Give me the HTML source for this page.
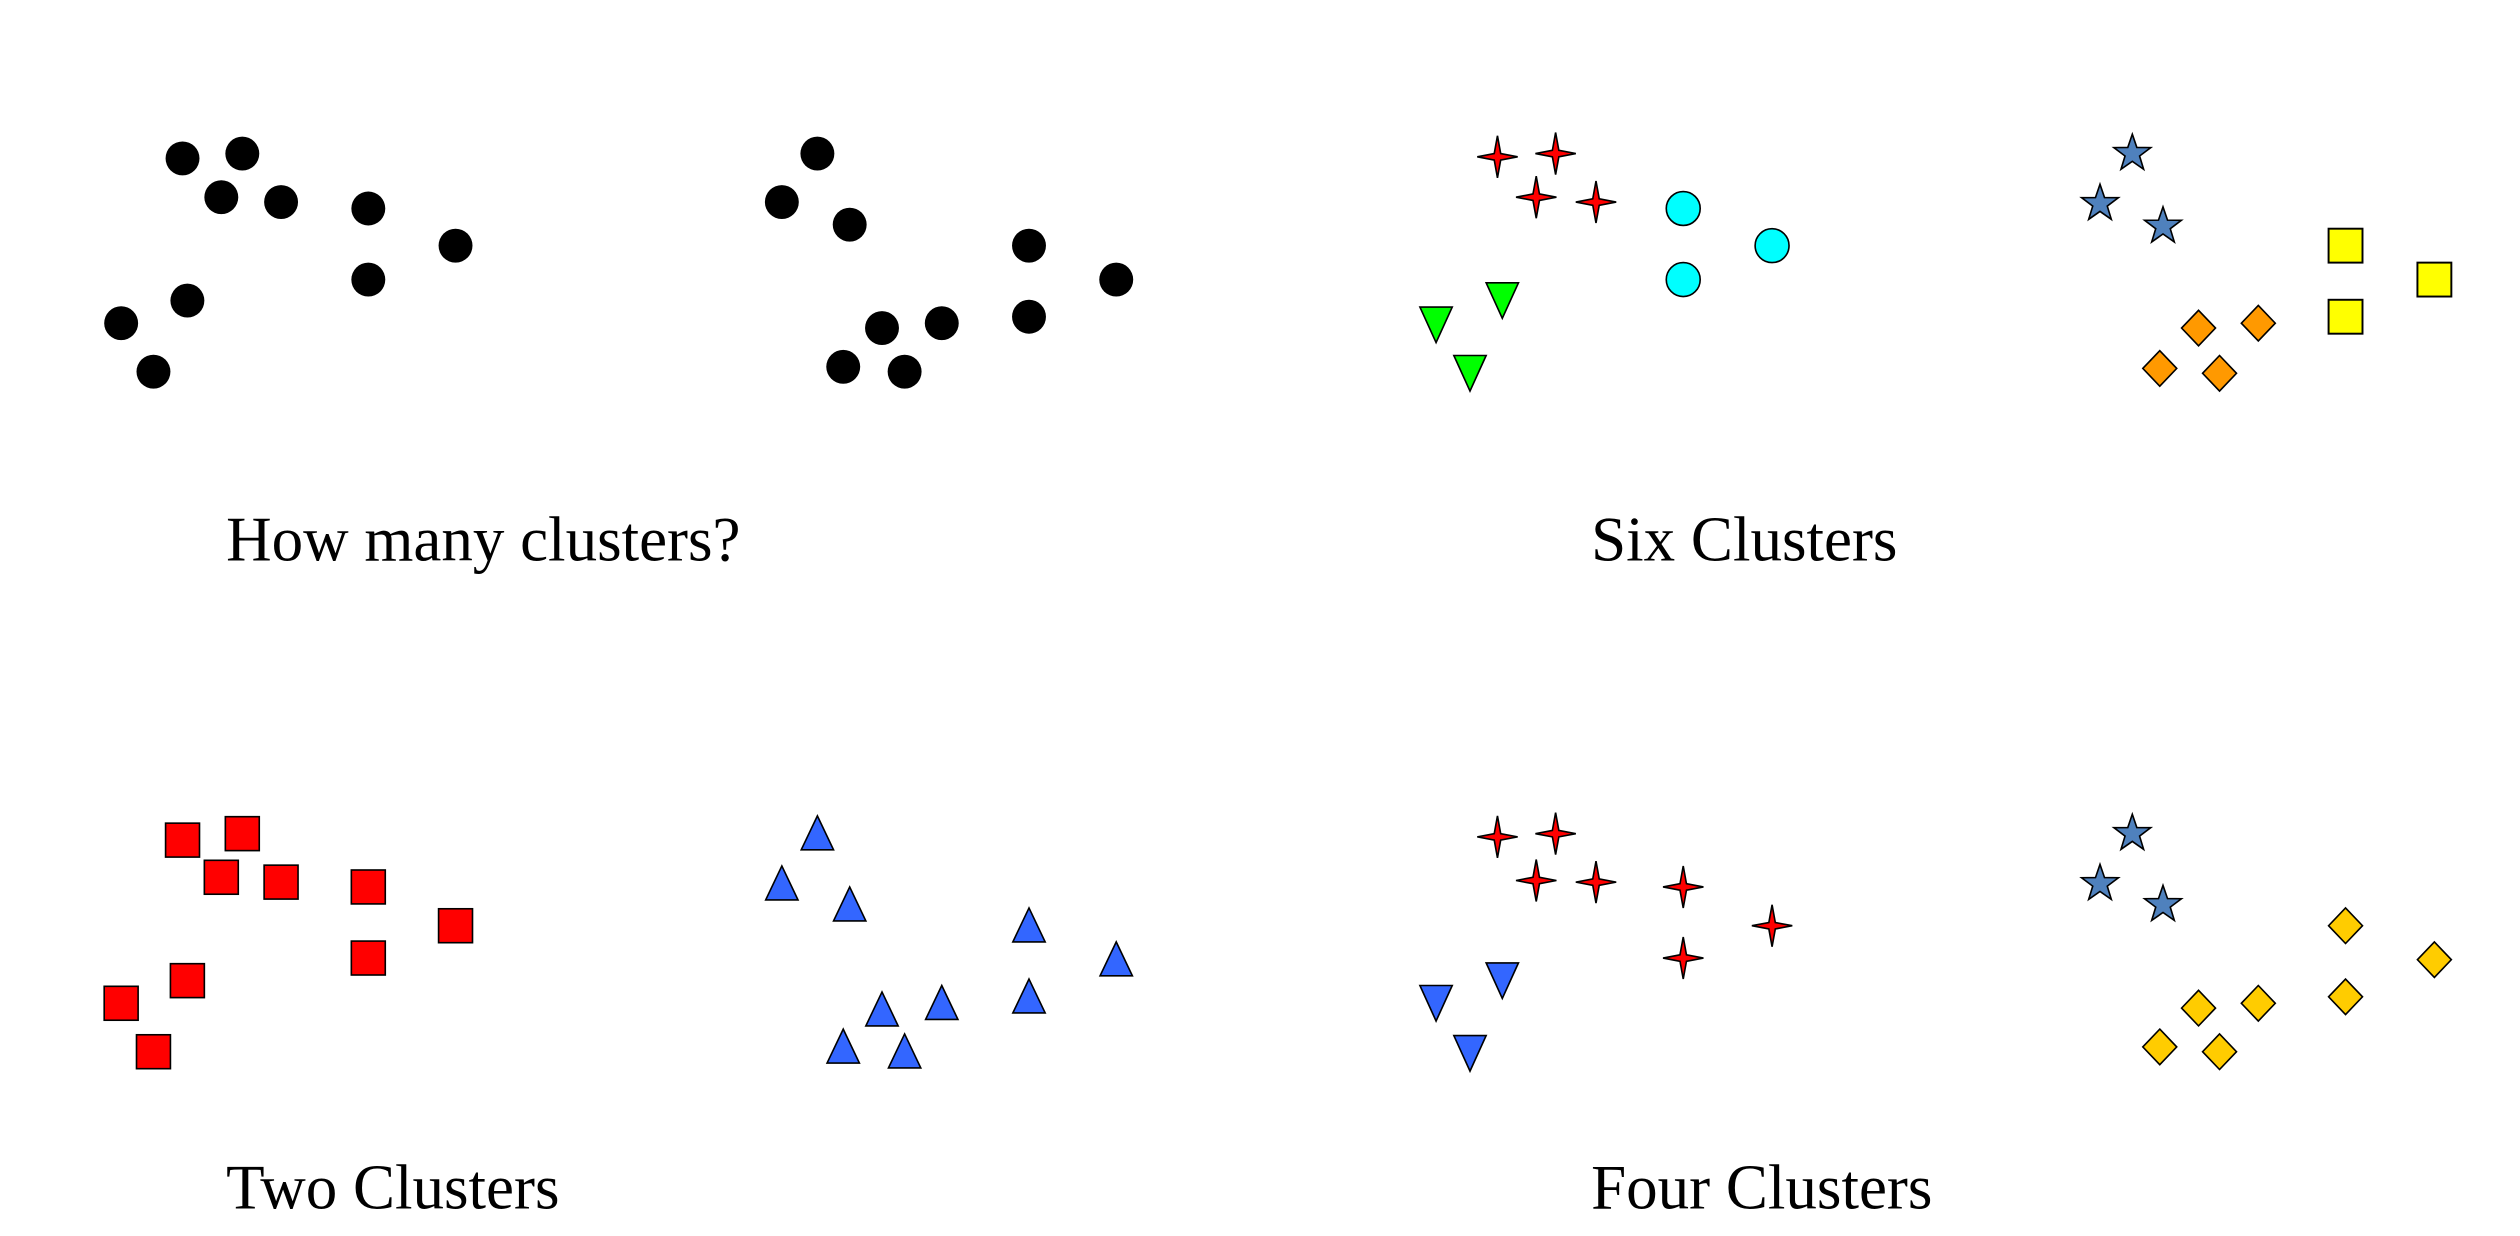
<!DOCTYPE html>
<html><head><meta charset="utf-8"><style>html,body{margin:0;padding:0;background:#fff}svg{display:block}</style></head>
<body>
<svg width="2520" height="1236" viewBox="0 0 1560 765" xmlns="http://www.w3.org/2000/svg">
<defs>
<circle id="dot" r="10.5" fill="#000"/>
<circle id="cy" r="10.5" fill="#00FFFF" stroke="#000" stroke-width="1"/>
<rect id="rs" x="-10.5" y="-10.5" width="21" height="21" fill="#FF0000" stroke="#000" stroke-width="1"/>
<rect id="ys" x="-10.5" y="-10.5" width="21" height="21" fill="#FFFF00" stroke="#000" stroke-width="1.2"/>
<path id="s4" d="M0,-13 L2,-2 L12.5,0 L2,2 L0,13 L-2,2 L-12.5,0 L-2,-2Z" fill="#FF0000" stroke="#000" stroke-width="1"/>
<path id="gt" d="M-10,-10 L10,-10 L0,12Z" fill="#00FF00" stroke="#000" stroke-width="1"/>
<path id="bt" d="M-10,-10 L10,-10 L0,12Z" fill="#3366FF" stroke="#000" stroke-width="1"/>
<path id="ut" d="M0,-11 L10,10 L-10,10Z" fill="#3366FF" stroke="#000" stroke-width="1"/>
<path id="od" d="M0,-11 L10.5,0 L0,11 L-10.5,0Z" fill="#FF9900" stroke="#000" stroke-width="1"/>
<path id="yd" d="M0,-11 L10.5,0 L0,11 L-10.5,0Z" fill="#FFCC00" stroke="#000" stroke-width="1"/>
<path id="st" d="M0,-12 L2.8,-3.8 L11.4,-3.7 L4.5,1.5 L7,9.7 L0,4.8 L-7,9.7 L-4.5,1.5 L-11.4,-3.7 L-2.8,-3.8Z" fill="#4F81BD" stroke="#000" stroke-width="1"/>
</defs>
<g>
<use href="#dot" x="113" y="98"/><use href="#dot" x="150" y="95"/><use href="#dot" x="137" y="122"/><use href="#dot" x="174" y="125"/><use href="#dot" x="228" y="129"/><use href="#dot" x="282" y="152"/><use href="#dot" x="228" y="173"/><use href="#dot" x="116" y="186"/><use href="#dot" x="75" y="200"/><use href="#dot" x="95" y="230"/>
<use href="#dot" x="506" y="95"/><use href="#dot" x="484" y="125"/><use href="#dot" x="526" y="139"/><use href="#dot" x="637" y="152"/><use href="#dot" x="691" y="173"/><use href="#dot" x="637" y="196"/><use href="#dot" x="546" y="203"/><use href="#dot" x="583" y="200"/><use href="#dot" x="522" y="227"/><use href="#dot" x="560" y="230"/>
<use href="#s4" x="927" y="97"/><use href="#s4" x="963" y="95"/><use href="#s4" x="951" y="122"/><use href="#s4" x="988" y="125"/>
<use href="#cy" x="1042" y="129"/><use href="#cy" x="1097" y="152"/><use href="#cy" x="1042" y="173"/>
<use href="#gt" x="930" y="185"/><use href="#gt" x="889" y="200"/><use href="#gt" x="910" y="230"/>
<use href="#st" x="1320" y="95"/><use href="#st" x="1300" y="126"/><use href="#st" x="1339" y="140"/>
<use href="#ys" x="1452" y="152"/><use href="#ys" x="1507" y="173"/><use href="#ys" x="1452" y="196"/>
<use href="#od" x="1361" y="203"/><use href="#od" x="1398" y="200"/><use href="#od" x="1337" y="228"/><use href="#od" x="1374" y="231"/>

<use href="#rs" x="113" y="520"/><use href="#rs" x="150" y="516"/><use href="#rs" x="137" y="543"/><use href="#rs" x="174" y="546"/><use href="#rs" x="228" y="549"/><use href="#rs" x="282" y="573"/><use href="#rs" x="228" y="593"/><use href="#rs" x="116" y="607"/><use href="#rs" x="75" y="621"/><use href="#rs" x="95" y="651"/>
<use href="#ut" x="506" y="516"/><use href="#ut" x="484" y="547"/><use href="#ut" x="526" y="560"/><use href="#ut" x="637" y="573"/><use href="#ut" x="691" y="594"/><use href="#ut" x="637" y="617"/><use href="#ut" x="546" y="625"/><use href="#ut" x="583" y="621"/><use href="#ut" x="522" y="648"/><use href="#ut" x="560" y="651"/>
<use href="#s4" x="927" y="518"/><use href="#s4" x="963" y="516"/><use href="#s4" x="951" y="545"/><use href="#s4" x="988" y="546"/><use href="#s4" x="1042" y="549"/><use href="#s4" x="1097" y="573"/><use href="#s4" x="1042" y="593"/>
<use href="#bt" x="930" y="606"/><use href="#bt" x="889" y="620"/><use href="#bt" x="910" y="651"/>
<use href="#st" x="1320" y="516"/><use href="#st" x="1300" y="547"/><use href="#st" x="1339" y="560"/>
<use href="#yd" x="1452" y="573"/><use href="#yd" x="1507" y="594"/><use href="#yd" x="1452" y="617"/><use href="#yd" x="1361" y="624"/><use href="#yd" x="1398" y="621"/><use href="#yd" x="1337" y="648"/><use href="#yd" x="1374" y="651"/>
</g>
<g font-family="'Liberation Serif', serif" font-size="39" fill="#000">
<text x="140" y="347">How many clusters?</text>
<text x="985" y="347">Six Clusters</text>
<text x="140" y="748">Two Clusters</text>
<text x="985" y="748">Four Clusters</text>
</g>
</svg>
</body></html>
